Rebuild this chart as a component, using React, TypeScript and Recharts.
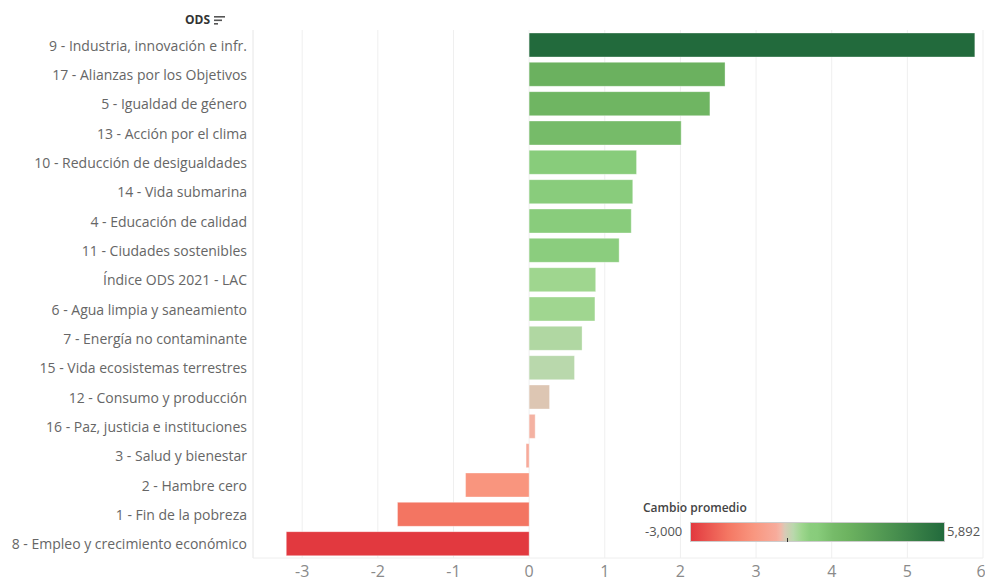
import { BarChart, Bar, XAxis, YAxis, CartesianGrid, Cell } from "recharts";

const categories = [
  "9 - Industria, innovación e infr.",
  "17 - Alianzas por los Objetivos",
  "5 - Igualdad de género",
  "13 - Acción por el clima",
  "10 - Reducción de desigualdades",
  "14 - Vida submarina",
  "4 - Educación de calidad",
  "11 - Ciudades sostenibles",
  "Índice ODS 2021 - LAC",
  "6 - Agua limpia y saneamiento",
  "7 - Energía no contaminante",
  "15 - Vida ecosistemas terrestres",
  "12 - Consumo y producción",
  "16 - Paz, justicia e instituciones",
  "3 - Salud y bienestar",
  "2 - Hambre cero",
  "1 - Fin de la pobreza",
  "8 - Empleo y crecimiento económico",
];

const cambio = [
  5.892, 2.59, 2.39, 2.01, 1.42, 1.37, 1.35, 1.19, 0.88, 0.87, 0.7, 0.6, 0.27, 0.08, -0.04, -0.84,
  -1.74, -3.21,
];

const xTicks = [-3, -2, -1, 0, 1, 2, 3, 4, 5, 6];

const legendMin = -3;
const legendMax = 5.892;

// diverging colour scale (value -> colour)
const colorStops: [number, string][] = [
  [-3, "#e2393f"],
  [-1.7, "#f47763"],
  [-0.8, "#f9967f"],
  [0.0, "#f7ab9b"],
  [0.15, "#f2b8a8"],
  [0.3, "#d8cab6"],
  [0.6, "#b9d8ac"],
  [0.9, "#9dd68d"],
  [1.2, "#8acd7d"],
  [1.45, "#88cc7b"],
  [2.0, "#76bb69"],
  [2.5, "#6db360"],
  [5.892, "#226a3c"],
];

function hex(c: string) {
  return [1, 3, 5].map((i) => parseInt(c.slice(i, i + 2), 16));
}

function colorFor(v: number) {
  if (v <= colorStops[0][0]) return colorStops[0][1];
  for (let i = 1; i < colorStops.length; i++) {
    const [v1, c1] = colorStops[i];
    const [v0, c0] = colorStops[i - 1];
    if (v <= v1) {
      const t = (v - v0) / (v1 - v0);
      const a = hex(c0);
      const b = hex(c1);
      const m = a.map((x, k) => Math.round(x + (b[k] - x) * t));
      return `rgb(${m[0]},${m[1]},${m[2]})`;
    }
  }
  return colorStops[colorStops.length - 1][1];
}

const data = categories.map((name, i) => ({ name, value: cambio[i] }));

const gradient = colorStops
  .map(([v, c]) => `${c} ${(((v - legendMin) / (legendMax - legendMin)) * 100).toFixed(1)}%`)
  .join(", ");

const font = "'Open Sans', Lato, sans-serif";

export default function App() {
  return (
    <div style={{ position: "fixed", left: 0, top: 0, width: 985, height: 585, background: "#fff", fontFamily: font }}>
      <div style={{ position: "absolute", left: 185, top: 11, fontSize: 12, fontWeight: 700, color: "#333", display: "flex", alignItems: "center" }}>
        ODS
        <svg width="12" height="10" style={{ marginLeft: 4 }}>
          <rect x="0" y="1" width="11" height="1.6" fill="#555" />
          <rect x="0" y="4.5" width="8" height="1.6" fill="#555" />
          <rect x="0" y="8" width="4" height="1.6" fill="#555" />
        </svg>
      </div>
      <BarChart
        width={985}
        height={585}
        data={data}
        layout="vertical"
        margin={{ top: 30, right: 2, bottom: 0, left: 0 }}
        barSize={24}
      >
        <CartesianGrid horizontal={false} stroke="#efefef" />
        <XAxis
          type="number"
          domain={[-3.65, 6]}
          ticks={xTicks}
          allowDataOverflow
          height={27}
          tickLine={false}
          axisLine={{ stroke: "#eeeeee" }}
          tick={{ fill: "#8a8a8a", fontSize: 16, fontFamily: font }}
          dy={0}
        />
        <YAxis
          type="category"
          dataKey="name"
          width={253}
          tickLine={false}
          tickMargin={0}
          axisLine={{ stroke: "#eeeeee" }}
          interval={0}
          tick={{ fill: "#666", fontSize: 14, fontFamily: font }}
          dy={1}
        />
        <Bar dataKey="value" isAnimationActive={false} stroke="rgba(255,255,255,0.35)" strokeWidth={1}>
          {data.map((d) => (
            <Cell key={d.name} fill={colorFor(d.value)} />
          ))}
        </Bar>
      </BarChart>
      <div style={{ position: "absolute", left: 643, top: 499, fontSize: 12, fontWeight: 600, color: "#444" }}>
        Cambio promedio
      </div>
      <div style={{ position: "absolute", left: 645, top: 522, fontSize: 13, color: "#555" }}>-3,000</div>
      <div
        style={{
          position: "absolute",
          left: 690,
          top: 522,
          width: 253,
          height: 18,
          border: "1px solid #ccc",
          background: `linear-gradient(to right, ${gradient})`,
        }}
      >
        <div style={{ position: "absolute", left: 96, bottom: -1, width: 1, height: 4, background: "#333" }} />
      </div>
      <div style={{ position: "absolute", left: 947, top: 522, fontSize: 13, color: "#555" }}>5,892</div>
    </div>
  );
}
